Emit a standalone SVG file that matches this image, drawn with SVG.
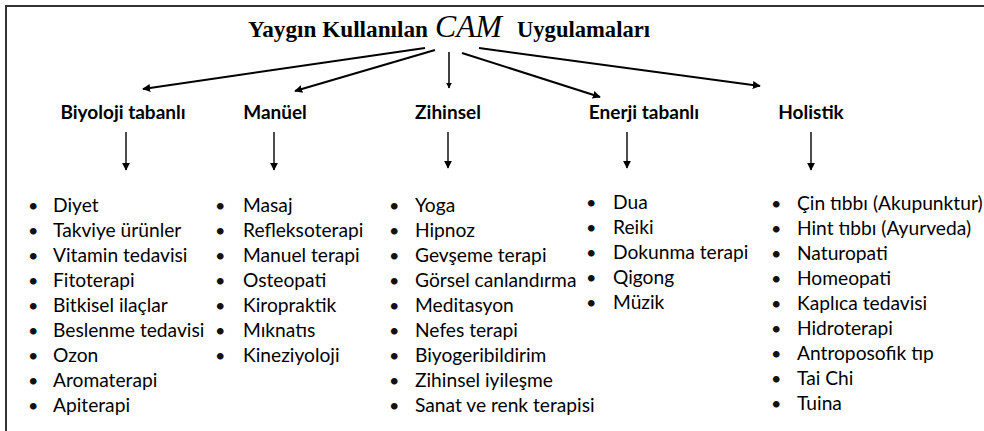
<svg xmlns="http://www.w3.org/2000/svg" width="984" height="431" viewBox="0 0 984 431">
<defs>
<marker id="ah" viewBox="0 0 10 10" refX="9" refY="5" markerWidth="4" markerHeight="4" orient="auto" markerUnits="strokeWidth">
<path d="M0,0 L10,5 L0,10 z" fill="#000"/>
</marker>
<marker id="ah2" viewBox="0 0 10 10" refX="9" refY="5" markerWidth="5.5" markerHeight="5.5" orient="auto" markerUnits="strokeWidth">
<path d="M0,0 L10,5 L0,10 z" fill="#000"/>
</marker>
</defs>
<style>
.title{font-family:"Liberation Serif","Times New Roman",serif;font-weight:bold;font-size:23.5px;fill:#000}
.cam{font-family:"Liberation Serif","Times New Roman",serif;font-style:italic;font-size:32px;fill:#000}
.hd{font-family:Lato,"Liberation Sans",sans-serif;font-weight:bold;font-size:19px;fill:#000;text-anchor:middle}
.it{font-family:Lato,"Liberation Sans",sans-serif;font-size:19.2px;fill:#000}
.bl{font-family:Lato,"Liberation Sans",sans-serif;font-size:18px;fill:#111}
.conn line{stroke:#000;fill:none}
.main{stroke-width:2;marker-end:url(#ah)}
.sub{stroke-width:1.4;marker-end:url(#ah2)}
</style>
<rect width="984" height="431" fill="#fff"/>
<path d="M6,431 V6 H984" fill="none" stroke="#333" stroke-width="2"/>
<g id="title">
<text class="title" x="248" y="37" textLength="180" lengthAdjust="spacingAndGlyphs">Yaygın Kullanılan</text>
<text class="cam" x="435" y="37" textLength="67" lengthAdjust="spacingAndGlyphs">CAM</text>
<text class="title" x="517" y="37" textLength="133" lengthAdjust="spacingAndGlyphs">Uygulamaları</text>
</g>
<g id="connectors" class="conn">
<line class="main" x1="425" y1="48" x2="143" y2="89"/>
<line class="main" x1="435" y1="50" x2="295" y2="91"/>
<line class="main" x1="449" y1="52" x2="449" y2="88" style="stroke-width:1.5"/>
<line class="main" x1="462" y1="53" x2="600" y2="97"/>
<line class="main" x1="479" y1="48" x2="760" y2="86"/>
<line class="sub" x1="126" y1="132" x2="126" y2="170"/>
<line class="sub" x1="274" y1="132" x2="274" y2="170"/>
<line class="sub" x1="448" y1="132" x2="448" y2="168"/>
<line class="sub" x1="627" y1="132" x2="627" y2="168"/>
<line class="sub" x1="811" y1="132" x2="811" y2="170"/>
</g>
<g id="biyoloji">
<text class="hd" x="123" y="119">Biyoloji tabanlı</text>
<g class="bl"><text x="28" y="212">•</text><text x="28" y="237">•</text><text x="28" y="262">•</text><text x="28" y="287">•</text><text x="28" y="312">•</text><text x="28" y="337">•</text><text x="28" y="362">•</text><text x="28" y="387">•</text><text x="28" y="412">•</text></g>
<text class="it" x="53" y="212">Diyet</text>
<text class="it" x="53" y="237">Takviye ürünler</text>
<text class="it" x="53" y="262">Vitamin tedavisi</text>
<text class="it" x="53" y="287">Fitoterapi</text>
<text class="it" x="53" y="312">Bitkisel ilaçlar</text>
<text class="it" x="53" y="337">Beslenme tedavisi</text>
<text class="it" x="53" y="362">Ozon</text>
<text class="it" x="53" y="387">Aromaterapi</text>
<text class="it" x="53" y="412">Apiterapi</text>
</g>
<g id="manuel">
<text class="hd" x="275" y="119">Manüel</text>
<g class="bl"><text x="215" y="212">•</text><text x="215" y="237">•</text><text x="215" y="262">•</text><text x="215" y="287">•</text><text x="215" y="312">•</text><text x="215" y="337">•</text><text x="215" y="362">•</text></g>
<text class="it" x="243" y="212">Masaj</text>
<text class="it" x="243" y="237">Refleksoterapi</text>
<text class="it" x="243" y="262">Manuel terapi</text>
<text class="it" x="243" y="287">Osteopati</text>
<text class="it" x="243" y="312">Kiropraktik</text>
<text class="it" x="243" y="337">Mıknatıs</text>
<text class="it" x="243" y="362">Kineziyoloji</text>
</g>
<g id="zihinsel">
<text class="hd" x="448" y="119">Zihinsel</text>
<g class="bl"><text x="389" y="212">•</text><text x="389" y="237">•</text><text x="389" y="262">•</text><text x="389" y="287">•</text><text x="389" y="312">•</text><text x="389" y="337">•</text><text x="389" y="362">•</text><text x="389" y="387">•</text><text x="389" y="412">•</text></g>
<text class="it" x="415" y="212">Yoga</text>
<text class="it" x="415" y="237">Hipnoz</text>
<text class="it" x="415" y="262">Gevşeme terapi</text>
<text class="it" x="415" y="287">Görsel canlandırma</text>
<text class="it" x="415" y="312">Meditasyon</text>
<text class="it" x="415" y="337">Nefes terapi</text>
<text class="it" x="415" y="362">Biyogeribildirim</text>
<text class="it" x="415" y="387">Zihinsel iyileşme</text>
<text class="it" x="415" y="412">Sanat ve renk terapisi</text>
</g>
<g id="enerji">
<text class="hd" x="644" y="119">Enerji tabanlı</text>
<g class="bl"><text x="586" y="209">•</text><text x="586" y="234">•</text><text x="586" y="259">•</text><text x="586" y="284">•</text><text x="586" y="309">•</text></g>
<text class="it" x="613" y="209">Dua</text>
<text class="it" x="613" y="234">Reiki</text>
<text class="it" x="613" y="259">Dokunma terapi</text>
<text class="it" x="613" y="284">Qigong</text>
<text class="it" x="613" y="309">Müzik</text>
</g>
<g id="holistik">
<text class="hd" x="811" y="119">Holistik</text>
<g class="bl"><text x="771" y="210">•</text><text x="771" y="235">•</text><text x="771" y="260">•</text><text x="771" y="285">•</text><text x="771" y="310">•</text><text x="771" y="335">•</text><text x="771" y="360">•</text><text x="771" y="385">•</text><text x="771" y="410">•</text></g>
<text class="it" x="797" y="210">Çin tıbbı (Akupunktur)</text>
<text class="it" x="797" y="235">Hint tıbbı (Ayurveda)</text>
<text class="it" x="797" y="260">Naturopati</text>
<text class="it" x="797" y="285">Homeopati</text>
<text class="it" x="797" y="310">Kaplıca tedavisi</text>
<text class="it" x="797" y="335">Hidroterapi</text>
<text class="it" x="797" y="360">Antroposofik tıp</text>
<text class="it" x="797" y="385">Tai Chi</text>
<text class="it" x="797" y="410">Tuina</text>
</g>
</svg>
